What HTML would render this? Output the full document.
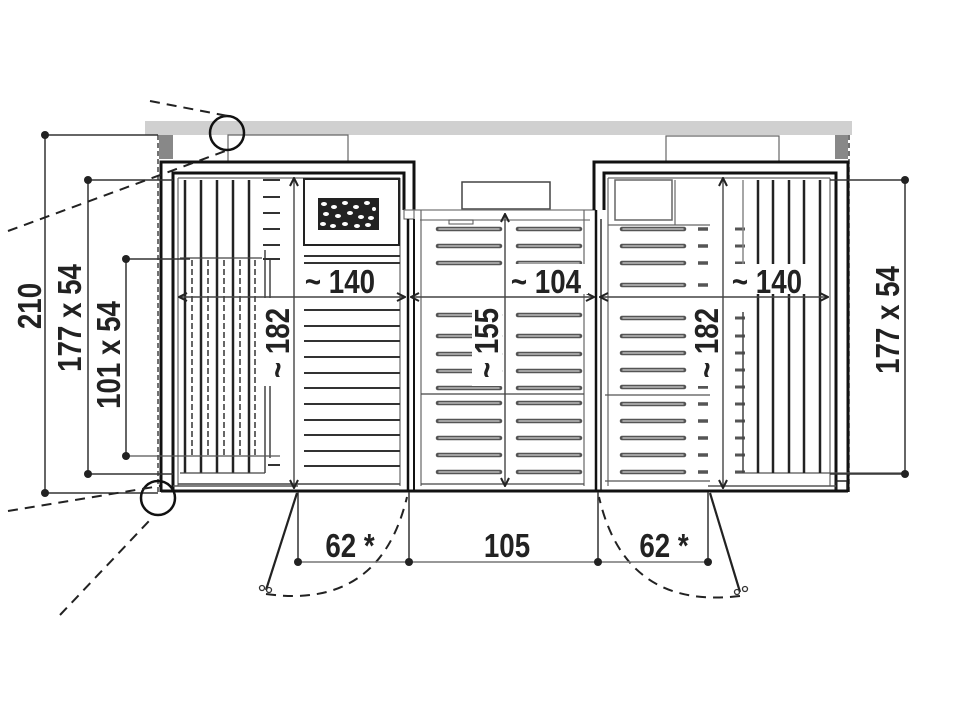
<!DOCTYPE html>
<html><head><meta charset="utf-8"><style>
html,body{margin:0;padding:0;background:#fff;}
svg{display:block}
text{font-family:"Liberation Sans",sans-serif;font-weight:bold;fill:#222;}
</style></head><body>
<svg width="960" height="720" viewBox="0 0 960 720" xmlns="http://www.w3.org/2000/svg">
<defs>
  <g id="sl">
    <line x1="0" y1="0" x2="62" y2="0" stroke="#555" stroke-width="4.5" stroke-linecap="round"/>
    <line x1="1" y1="0" x2="61" y2="0" stroke="#bbb" stroke-width="1.5" stroke-linecap="round"/>
  </g>
  <g id="mid">
    <use href="#sl" x="438"/><use href="#sl" x="518"/>
  </g>
  <g id="rt">
    <use href="#sl" x="622"/>
    <line x1="698" y1="0" x2="708" y2="0" stroke="#555" stroke-width="3.5"/>
    <line x1="735" y1="0" x2="745" y2="0" stroke="#555" stroke-width="3"/>
  </g>
  <marker id="a" viewBox="0 0 10 10" refX="9" refY="5" markerWidth="10" markerHeight="10" orient="auto-start-reverse" markerUnits="userSpaceOnUse">
    <path d="M1,1 L9,5 L1,9" fill="none" stroke="#222" stroke-width="2"/>
  </marker>
</defs>

<rect x="145" y="121" width="707" height="14" fill="#d0d0d0"/>
<rect x="159" y="135" width="14" height="24" fill="#888"/>
<rect x="835" y="135" width="13" height="24" fill="#888"/>
<line x1="158" y1="135" x2="158" y2="492" stroke="#444" stroke-width="1.5" stroke-dasharray="5,3"/>
<line x1="849" y1="135" x2="849" y2="492" stroke="#444" stroke-width="1.5" stroke-dasharray="5,3"/>
<polyline points="228,161 228,135 348,135 348,161" fill="none" stroke="#666" stroke-width="1.2"/>
<polyline points="666,161 666,136 779,136 779,161" fill="none" stroke="#666" stroke-width="1.2"/>

<polyline points="161,492 161,162 414,162 414,210" fill="none" stroke="#111" stroke-width="3"/>
<polyline points="173,490 173,173 404,173 404,210" fill="none" stroke="#111" stroke-width="3"/>
<rect x="404" y="210" width="10" height="9" fill="none" stroke="#555" stroke-width="1"/>
<line x1="408" y1="219" x2="408" y2="492" stroke="#111" stroke-width="2.5"/>
<line x1="414" y1="219" x2="414" y2="492" stroke="#111" stroke-width="2"/>
<line x1="178" y1="178" x2="400" y2="178" stroke="#666" stroke-width="1.2"/>
<line x1="178" y1="178" x2="178" y2="486" stroke="#666" stroke-width="1.2"/>
<line x1="400" y1="178" x2="400" y2="486" stroke="#666" stroke-width="1.2"/>
<line x1="178" y1="484" x2="400" y2="484" stroke="#444" stroke-width="1.5"/>

<g stroke="#222" stroke-width="2.5">
<line x1="185" y1="180" x2="185" y2="473"/><line x1="201" y1="180" x2="201" y2="473"/>
<line x1="217" y1="180" x2="217" y2="473"/><line x1="233" y1="180" x2="233" y2="473"/>
<line x1="249" y1="180" x2="249" y2="473"/>
</g>
<g stroke="#333" stroke-width="1.5" stroke-dasharray="6,3">
<line x1="192" y1="260" x2="192" y2="455"/><line x1="208" y1="260" x2="208" y2="455"/>
<line x1="224" y1="260" x2="224" y2="455"/><line x1="240" y1="260" x2="240" y2="455"/>
<line x1="255" y1="260" x2="255" y2="455"/>
</g>
<line x1="180" y1="258" x2="262" y2="258" stroke="#444" stroke-width="1.2"/>
<line x1="265" y1="250" x2="265" y2="473" stroke="#444" stroke-width="1.5"/>
<line x1="270" y1="258" x2="270" y2="458" stroke="#444" stroke-width="1.5"/>
<line x1="128" y1="456" x2="280" y2="456" stroke="#555" stroke-width="1.2"/>
<line x1="180" y1="473" x2="265" y2="473" stroke="#444" stroke-width="1.2"/>
<g stroke="#333" stroke-width="2">
<line x1="263" y1="180" x2="280" y2="180"/><line x1="263" y1="197" x2="280" y2="197"/>
<line x1="263" y1="213" x2="280" y2="213"/><line x1="263" y1="229" x2="280" y2="229"/>
<line x1="263" y1="245" x2="280" y2="245"/><line x1="263" y1="259" x2="280" y2="259"/>
<line x1="268" y1="465" x2="280" y2="465"/>
</g>
<rect x="304" y="179" width="95" height="66" fill="none" stroke="#222" stroke-width="2"/>
<rect x="318" y="198" width="61" height="32" fill="#222"/>
<g fill="#fff">
<ellipse cx="324" cy="204" rx="3" ry="2"/><ellipse cx="334" cy="207" rx="3" ry="2"/><ellipse cx="345" cy="203" rx="3" ry="2"/><ellipse cx="356" cy="207" rx="3" ry="2"/><ellipse cx="367" cy="203" rx="3" ry="2"/><ellipse cx="374" cy="209" rx="2" ry="2"/>
<ellipse cx="326" cy="214" rx="3" ry="2"/><ellipse cx="338" cy="216" rx="3" ry="2"/><ellipse cx="350" cy="213" rx="3" ry="2"/><ellipse cx="361" cy="217" rx="3" ry="2"/><ellipse cx="371" cy="218" rx="3" ry="2"/>
<ellipse cx="323" cy="224" rx="3" ry="2"/><ellipse cx="333" cy="226" rx="3" ry="2"/><ellipse cx="345" cy="224" rx="3" ry="2"/><ellipse cx="357" cy="226" rx="3" ry="2"/><ellipse cx="368" cy="225" rx="3" ry="2"/>
</g>
<g stroke="#333" stroke-width="2">
<line x1="304" y1="256" x2="400" y2="256"/><line x1="304" y1="263" x2="400" y2="263"/>
<line x1="304" y1="310" x2="400" y2="310"/><line x1="304" y1="326" x2="400" y2="326"/>
<line x1="304" y1="341" x2="400" y2="341"/><line x1="304" y1="357" x2="400" y2="357"/>
<line x1="304" y1="373" x2="400" y2="373"/><line x1="304" y1="388" x2="400" y2="388"/>
<line x1="304" y1="404" x2="400" y2="404"/><line x1="304" y1="420" x2="400" y2="420"/>
<line x1="304" y1="435" x2="400" y2="435"/><line x1="304" y1="451" x2="400" y2="451"/>
<line x1="304" y1="466" x2="400" y2="466"/>
</g>

<rect x="462" y="182" width="88" height="27" fill="none" stroke="#444" stroke-width="1.5"/>
<line x1="404" y1="210" x2="596" y2="210" stroke="#777" stroke-width="1.2"/>
<line x1="420" y1="220" x2="590" y2="220" stroke="#777" stroke-width="1.2"/>
<rect x="449" y="220" width="24" height="4" fill="none" stroke="#555" stroke-width="1"/>
<line x1="421" y1="210" x2="421" y2="486" stroke="#666" stroke-width="1.2"/>
<line x1="584" y1="210" x2="584" y2="486" stroke="#666" stroke-width="1.2"/>
<line x1="421" y1="394" x2="584" y2="394" stroke="#444" stroke-width="1.2"/>
<line x1="421" y1="484" x2="584" y2="484" stroke="#444" stroke-width="1.2"/>
<use href="#mid" y="229"/><use href="#mid" y="246"/><use href="#mid" y="263"/><use href="#mid" y="315"/><use href="#mid" y="336"/><use href="#mid" y="354"/><use href="#mid" y="371"/><use href="#mid" y="388"/><use href="#mid" y="403"/><use href="#mid" y="421"/><use href="#mid" y="438"/><use href="#mid" y="455"/><use href="#mid" y="472"/>

<polyline points="848,492 848,162 594,162 594,210" fill="none" stroke="#111" stroke-width="3"/>
<polyline points="836,490 836,173 604,173 604,210" fill="none" stroke="#111" stroke-width="3"/>
<line x1="596" y1="210" x2="596" y2="492" stroke="#111" stroke-width="2.5"/>
<line x1="601" y1="219" x2="601" y2="492" stroke="#333" stroke-width="1.5"/>
<line x1="608" y1="178" x2="830" y2="178" stroke="#666" stroke-width="1.2"/>
<line x1="830" y1="178" x2="830" y2="486" stroke="#666" stroke-width="1.2"/>
<line x1="608" y1="178" x2="608" y2="486" stroke="#666" stroke-width="1.2"/>
<rect x="615" y="180" width="57" height="40" fill="none" stroke="#666" stroke-width="1.5"/>
<line x1="675" y1="180" x2="675" y2="225" stroke="#666" stroke-width="1.2"/>
<line x1="608" y1="225" x2="710" y2="225" stroke="#666" stroke-width="1.2"/>
<line x1="605" y1="395" x2="710" y2="395" stroke="#555" stroke-width="1.2"/>
<line x1="605" y1="481" x2="710" y2="481" stroke="#555" stroke-width="1.2"/>
<line x1="735" y1="473" x2="905" y2="473" stroke="#555" stroke-width="1.2"/>
<use href="#rt" y="229"/><use href="#rt" y="246"/><use href="#rt" y="263"/><use href="#rt" y="285"/><use href="#rt" y="318"/><use href="#rt" y="336"/><use href="#rt" y="353"/><use href="#rt" y="370"/><use href="#rt" y="387"/><use href="#rt" y="404"/><use href="#rt" y="421"/><use href="#rt" y="438"/><use href="#rt" y="455"/><use href="#rt" y="472"/>
<line x1="743" y1="312" x2="743" y2="473" stroke="#444" stroke-width="1.5"/>
<g stroke="#222" stroke-width="2.5">
<line x1="758" y1="180" x2="758" y2="473"/><line x1="773" y1="180" x2="773" y2="473"/>
<line x1="789" y1="180" x2="789" y2="473"/><line x1="804" y1="180" x2="804" y2="473"/>
<line x1="820" y1="180" x2="820" y2="473"/>
</g>
<line x1="743" y1="180" x2="743" y2="270" stroke="#888" stroke-width="1.5"/>
<rect x="836" y="481" width="11" height="10" fill="none" stroke="#222" stroke-width="1.5"/>

<line x1="161" y1="491" x2="848" y2="491" stroke="#111" stroke-width="3"/>
<line x1="173" y1="486" x2="298" y2="486" stroke="#555" stroke-width="1.5"/>
<line x1="708" y1="486" x2="836" y2="486" stroke="#555" stroke-width="1.5"/>

<g stroke="#444" stroke-width="1.4" fill="none" marker-start="url(#a)" marker-end="url(#a)">
<line x1="179" y1="297" x2="405" y2="297"/>
<line x1="411" y1="297" x2="594" y2="297"/>
<line x1="600" y1="297" x2="828" y2="297"/>
<line x1="294" y1="178" x2="294" y2="488"/>
<line x1="505" y1="214" x2="505" y2="486"/>
<line x1="723" y1="178" x2="723" y2="488"/>
</g>
<g fill="#fff">
<rect x="298" y="264" width="82" height="30"/><rect x="506" y="264" width="82" height="30"/><rect x="727" y="264" width="82" height="30"/>
<rect x="262" y="298" width="30" height="88"/><rect x="472" y="298" width="30" height="88"/><rect x="691" y="298" width="30" height="88"/>
</g>
<g font-size="33">
<text x="340" y="293" text-anchor="middle" transform="translate(340,0) scale(0.84,1) translate(-340,0)">~ 140</text>
<text x="546" y="293" text-anchor="middle" transform="translate(546,0) scale(0.84,1) translate(-546,0)">~ 104</text>
<text x="767" y="293" text-anchor="middle" transform="translate(767,0) scale(0.84,1) translate(-767,0)">~ 140</text>
<text transform="translate(289,343) rotate(-90) scale(0.84,1)" text-anchor="middle">~ 182</text>
<text transform="translate(498,343) rotate(-90) scale(0.84,1)" text-anchor="middle">~ 155</text>
<text transform="translate(718,343) rotate(-90) scale(0.84,1)" text-anchor="middle">~ 182</text>
</g>

<g stroke="#333" stroke-width="1.5">
<line x1="45" y1="135" x2="158" y2="135"/><line x1="45" y1="135" x2="45" y2="493"/><line x1="45" y1="493" x2="158" y2="493"/>
<line x1="88" y1="180" x2="173" y2="180"/><line x1="88" y1="180" x2="88" y2="474"/><line x1="88" y1="474" x2="173" y2="474"/>
<line x1="126" y1="259" x2="190" y2="259"/><line x1="126" y1="259" x2="126" y2="456"/>
<line x1="905" y1="180" x2="830" y2="180"/><line x1="905" y1="180" x2="905" y2="474"/><line x1="905" y1="474" x2="830" y2="474"/>
</g>
<g fill="#222">
<circle cx="45" cy="135" r="4"/><circle cx="45" cy="493" r="4"/>
<circle cx="88" cy="180" r="4"/><circle cx="88" cy="474" r="4"/>
<circle cx="126" cy="259" r="4"/><circle cx="126" cy="456" r="4"/>
<circle cx="905" cy="180" r="4"/><circle cx="905" cy="474" r="4"/>
</g>
<g font-size="33">
<text transform="translate(41,306) rotate(-90) scale(0.84,1)" text-anchor="middle">210</text>
<text transform="translate(81,318) rotate(-90) scale(0.84,1)" text-anchor="middle">177 x 54</text>
<text transform="translate(120,355) rotate(-90) scale(0.84,1)" text-anchor="middle">101 x 54</text>
<text transform="translate(899,320) rotate(-90) scale(0.84,1)" text-anchor="middle">177 x 54</text>
</g>

<circle cx="227" cy="133" r="17" fill="none" stroke="#111" stroke-width="2.5"/>
<circle cx="158" cy="498" r="17" fill="none" stroke="#111" stroke-width="2.5"/>
<g stroke="#222" stroke-width="2" fill="none" stroke-dasharray="10,7">
<line x1="150" y1="101" x2="228" y2="116"/>
<line x1="8" y1="231" x2="228" y2="150"/>
<line x1="8" y1="511" x2="160" y2="486"/>
<line x1="60" y1="615" x2="150" y2="520"/>
<path d="M266,594 Q380,610 407,497"/>
<path d="M740,596 Q625,610 599,497"/>
</g>

<g stroke="#333" stroke-width="1.5">
<line x1="298" y1="492" x2="298" y2="562"/><line x1="409" y1="492" x2="409" y2="562"/>
<line x1="598" y1="492" x2="598" y2="562"/><line x1="708" y1="492" x2="708" y2="562"/>
<line x1="298" y1="562" x2="708" y2="562" stroke="#777"/>
</g>
<g stroke="#222" stroke-width="2.2">
<line x1="297" y1="493" x2="266" y2="590"/>
<line x1="710" y1="493" x2="740" y2="592"/>
</g>
<g fill="none" stroke="#333" stroke-width="1.3">
<circle cx="262" cy="588" r="2.5"/><circle cx="269" cy="590" r="2.5"/>
<circle cx="737" cy="592" r="2.5"/><circle cx="745" cy="589" r="2.5"/>
</g>
<g fill="#222">
<circle cx="298" cy="562" r="4"/><circle cx="409" cy="562" r="4"/><circle cx="598" cy="562" r="4"/><circle cx="708" cy="562" r="4"/>
</g>
<g font-size="33">
<text x="350" y="557" text-anchor="middle" transform="translate(350,0) scale(0.84,1) translate(-350,0)">62 *</text>
<text x="507" y="557" text-anchor="middle" transform="translate(507,0) scale(0.84,1) translate(-507,0)">105</text>
<text x="664" y="557" text-anchor="middle" transform="translate(664,0) scale(0.84,1) translate(-664,0)">62 *</text>
</g>
</svg>
</body></html>
